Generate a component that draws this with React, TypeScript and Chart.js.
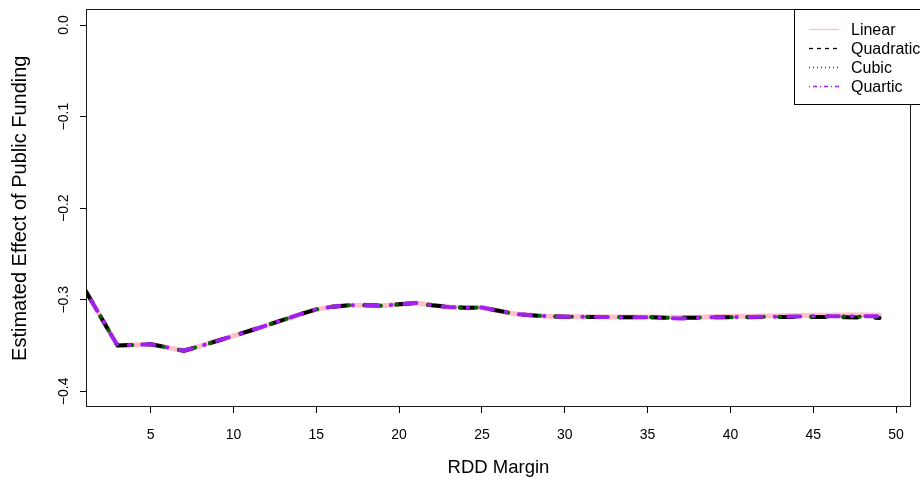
import { useEffect, useRef } from "react";
import { Chart, registerables } from "chart.js";

Chart.register(...registerables);

// ---------------- data ----------------
const X_VALUES = [
  1, 2, 3, 4, 5, 6, 7, 8, 9, 10, 11, 12, 13, 14, 15, 16, 17, 18, 19, 20, 21, 22, 23, 24, 25,
  26, 27, 28, 29, 30, 31, 32, 33, 34, 35, 36, 37, 38, 39, 40, 41, 42, 43, 44, 45, 46, 47, 48, 49,
];

const LINEAR = [
  -0.288, -0.319, -0.35, -0.3493, -0.3485, -0.352, -0.3557, -0.3505, -0.345, -0.3395,
  -0.3338, -0.328, -0.322, -0.316, -0.3105, -0.3075, -0.306, -0.306, -0.3065, -0.305,
  -0.3035, -0.306, -0.308, -0.3087, -0.3085, -0.312, -0.3155, -0.317, -0.318, -0.3185,
  -0.3185, -0.3186, -0.3188, -0.3188, -0.3188, -0.319, -0.3192, -0.319, -0.3185, -0.318,
  -0.318, -0.3178, -0.3175, -0.3172, -0.317, -0.3168, -0.3167, -0.3166, -0.3165,
];

const QUADRATIC = [
  -0.288, -0.319, -0.35, -0.3493, -0.3485, -0.352, -0.3557, -0.3505, -0.345, -0.3395,
  -0.3338, -0.328, -0.322, -0.316, -0.3105, -0.3075, -0.306, -0.306, -0.3065, -0.305,
  -0.3035, -0.306, -0.308, -0.3087, -0.3085, -0.312, -0.3155, -0.317, -0.318, -0.3185,
  -0.3187, -0.3188, -0.319, -0.319, -0.319, -0.3195, -0.3198, -0.3195, -0.319, -0.319,
  -0.319, -0.3188, -0.3188, -0.3188, -0.3188, -0.319, -0.3192, -0.3195, -0.3198,
];

const CUBIC = [
  -0.288, -0.319, -0.35, -0.3493, -0.3485, -0.352, -0.3557, -0.3505, -0.345, -0.3395,
  -0.3338, -0.328, -0.322, -0.316, -0.3105, -0.3075, -0.306, -0.306, -0.3065, -0.305,
  -0.3035, -0.306, -0.308, -0.3087, -0.3085, -0.312, -0.3155, -0.317, -0.318, -0.3185,
  -0.3185, -0.3188, -0.319, -0.319, -0.319, -0.3195, -0.3198, -0.3195, -0.319, -0.319,
  -0.3188, -0.3186, -0.3185, -0.3184, -0.3183, -0.3183, -0.3184, -0.3185, -0.3186,
];

const QUARTIC = [
  -0.288, -0.319, -0.35, -0.3493, -0.3485, -0.352, -0.3557, -0.3505, -0.345, -0.3395,
  -0.3338, -0.328, -0.322, -0.316, -0.3105, -0.3075, -0.306, -0.306, -0.3065, -0.305,
  -0.3035, -0.306, -0.308, -0.3087, -0.3085, -0.312, -0.3155, -0.317, -0.318, -0.3185,
  -0.3185, -0.3188, -0.319, -0.319, -0.319, -0.3198, -0.3205, -0.3198, -0.319, -0.319,
  -0.3188, -0.3186, -0.3184, -0.3182, -0.318, -0.318, -0.318, -0.318, -0.318,
];

const SERIES_NAMES = ["Linear", "Quadratic", "Cubic", "Quartic"];
const X_TICKS = [5, 10, 15, 20, 25, 30, 35, 40, 45, 50];
const Y_TICKS = [-0.4, -0.3, -0.2, -0.1, 0];
const X_TITLE = "RDD Margin";
const Y_TITLE = "Estimated Effect of Public Funding";

// ---------------- styling ----------------
const FONT = "'Liberation Sans', Arial, Helvetica, sans-serif";
const W = 920;
const H = 487;

const STYLES = [
  { color: "#FFC0CB", width: 5, dash: [] as number[], legendDash: [] as number[] },
  { color: "#000000", width: 4, dash: [14, 18], legendDash: [4, 4] },
  { color: "#006400", width: 4, dash: [0.5, 15.5], legendDash: [1, 3] },
  { color: "#A020F0", width: 4, dash: [0.5, 13, 12, 13], legendDash: [1, 3, 4, 3] },
];

const fmtY = (v: number) => {
  if (Math.abs(v) < 1e-9) return "0.0";
  return (v < 0 ? "\u2212" : "") + Math.abs(v).toFixed(1);
};

const boxPlugin = {
  id: "rBox",
  afterDatasetsDraw(chart: any) {
    const { ctx, chartArea } = chart;
    ctx.save();
    ctx.strokeStyle = "#1a1a1a";
    ctx.lineWidth = 1;
    ctx.setLineDash([]);
    ctx.strokeRect(
      Math.round(chartArea.left) - 0.5,
      Math.round(chartArea.top) - 0.5,
      Math.round(chartArea.right - chartArea.left) + 1,
      Math.round(chartArea.bottom - chartArea.top) + 1
    );
    ctx.restore();
  },
};

const legendPlugin = {
  id: "rLegend",
  afterDraw(chart: any) {
    const { ctx, chartArea } = chart;
    const left = 794.5;
    const top = Math.round(chartArea.top) - 0.5;
    const right = 935;
    const rowH = 19;
    const bottom = top + rowH * (SERIES_NAMES.length + 1);
    ctx.save();
    ctx.fillStyle = "#ffffff";
    ctx.fillRect(left, top, right - left, bottom - top);
    ctx.strokeStyle = "#000";
    ctx.lineWidth = 1;
    ctx.setLineDash([]);
    ctx.strokeRect(left, top, right - left, bottom - top);
    chart.data.datasets.forEach((ds: any, i: number) => {
      const y = Math.round(top + rowH * (i + 1)) + 0.5;
      ctx.strokeStyle = ds.borderColor;
      ctx.lineWidth = 1.3;
      ctx.setLineDash(STYLES[i].legendDash);
      ctx.beginPath();
      ctx.moveTo(809, y);
      ctx.lineTo(839, y);
      ctx.stroke();
      ctx.setLineDash([]);
      ctx.fillStyle = "#000";
      ctx.font = `16px ${FONT}`;
      ctx.textBaseline = "middle";
      ctx.textAlign = "left";
      ctx.fillText(ds.label, 851, y + 1);
    });
    ctx.restore();
  },
};

export default function App() {
  const canvasRef = useRef<HTMLCanvasElement | null>(null);

  useEffect(() => {
    const canvas = canvasRef.current;
    if (!canvas) return;
    const seriesValues = [LINEAR, QUADRATIC, CUBIC, QUARTIC];
    const datasets = SERIES_NAMES.map((name, i) => ({
      label: name,
      data: X_VALUES.map((x, j) => ({ x, y: seriesValues[i][j] })),
      borderColor: STYLES[i].color,
      backgroundColor: STYLES[i].color,
      borderWidth: STYLES[i].width,
      borderDash: STYLES[i].dash,
      borderCapStyle: "round" as const,
      borderJoinStyle: "round" as const,
      pointRadius: 0,
      tension: 0,
      fill: false,
      clip: 0,
      order: SERIES_NAMES.length - i,
    }));

    const chart = new Chart(canvas, {
      type: "line",
      data: { datasets },
      options: {
        responsive: false,
        animation: false,
        devicePixelRatio: 1,
        layout: { padding: { left: 0, top: 8, right: 10, bottom: 0 } },
        plugins: { legend: { display: false }, tooltip: { enabled: false } },
        events: [],
        scales: {
          x: {
            type: "linear",
            min: 1.16,
            max: 50.84,
            afterFit: (s: any) => {
              s.height = 81;
            },
            afterBuildTicks: (s: any) => {
              s.ticks = X_TICKS.map((v) => ({ value: v }));
            },
            grid: {
              display: true,
              drawOnChartArea: false,
              drawTicks: true,
              tickLength: 7,
              tickColor: "#000",
              tickWidth: 1,
            },
            border: { display: false },
            ticks: {
              autoSkip: false,
              maxRotation: 0,
              minRotation: 0,
              padding: 14,
              color: "#000",
              font: { family: FONT, size: 14 },
              callback: (v: any) => String(v),
            },
            title: {
              display: true,
              text: X_TITLE,
              color: "#000",
              font: { family: FONT, size: 18.5 },
              padding: { top: 0, bottom: 8 },
            },
          },
          y: {
            type: "linear",
            min: -0.416,
            max: 0.016,
            afterFit: (s: any) => {
              s.width = 87;
            },
            afterBuildTicks: (s: any) => {
              s.ticks = Y_TICKS.map((v) => ({ value: v }));
            },
            grid: {
              display: true,
              drawOnChartArea: false,
              drawTicks: true,
              tickLength: 7,
              tickColor: "#000",
              tickWidth: 1,
            },
            border: { display: false },
            ticks: {
              autoSkip: false,
              minRotation: 90,
              maxRotation: 90,
              crossAlign: "center",
              padding: 2,
              color: "#000",
              font: { family: FONT, size: 14 },
              callback: (v: any) => fmtY(Number(v)),
            },
            title: {
              display: true,
              text: Y_TITLE,
              color: "#000",
              font: { family: FONT, size: 20 },
              padding: { top: 8, bottom: 0 },
            },
          },
        },
      },
      plugins: [boxPlugin, legendPlugin],
    });

    return () => chart.destroy();
  }, []);

  return (
    <div style={{ position: "fixed", left: 0, top: 0, width: W, height: H, background: "#fff" }}>
      <canvas ref={canvasRef} width={W} height={H} style={{ display: "block" }} />
    </div>
  );
}
